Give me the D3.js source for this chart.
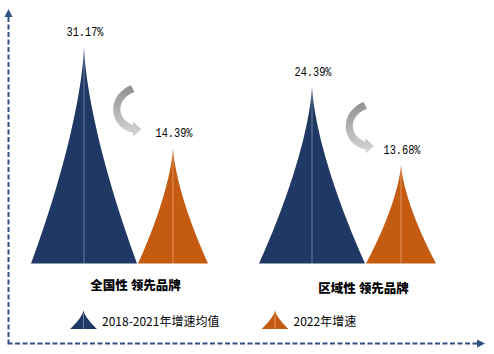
<!DOCTYPE html>
<html>
<head>
<meta charset="utf-8">
<script src="https://cdn.jsdelivr.net/npm/d3@7"></script>
<style>
  html, body { margin: 0; padding: 0; background: #ffffff; }
  svg { display: block; }
</style>
</head>
<body>
<svg id="chart" width="494" height="354"></svg>
<script>
// ---------------- data ----------------
const categories = ["全国性 领先品牌", "区域性 领先品牌"];
const seriesNames = ["2018-2021年增速均值", "2022年增速"];
const avg2018to2021 = [31.17, 24.39];
const growth2022 = [14.39, 13.68];
const valueLabels = [["31.17%", "14.39%"], ["24.39%", "13.68%"]];

// ---------------- layout / style ----------------
const colors = ["#203864", "#C55A11"];
const centerLine = ["rgba(170,185,210,0.55)", "rgba(245,190,150,0.6)"];
const shapeWidths = [106, 70];
const curvePow = 1.5;
const baseY = 263.5;
const svg = d3.select("#chart");

// group position scale
const gx = d3.scalePoint().domain(categories).range([128.5, 356.5]);
const sx = d3.scalePoint().domain(seriesNames).range([-44.5, 44.5]);

// one value scale per panel (the pictogram heights are not drawn to a common zero)
const yScales = [
  d3.scaleLinear().domain([-5, 35]).range([baseY, baseY - 240]),
  d3.scaleLinear().domain([0, 35]).range([baseY, baseY - 254.8])
];

// pictogram profile (concave-sided spike)
const spike = (cx, w, yBase, yTop, n = 48) => {
  const h = yBase - yTop;
  const pts = [];
  for (let i = 0; i <= n; i++) {
    const f = i / n;
    pts.push([cx + (w / 2) * Math.pow(1 - f, curvePow), yBase - f * h]);
  }
  for (let i = n - 1; i >= 0; i--) {
    const f = i / n;
    pts.push([cx - (w / 2) * Math.pow(1 - f, curvePow), yBase - f * h]);
  }
  return d3.line()(pts) + "Z";
};

// gradient for curved arrows
const defs = svg.append("defs");
const grad = defs.append("linearGradient").attr("id", "arrowGrad")
  .attr("x1", 0).attr("y1", 0).attr("x2", 0).attr("y2", 1);
grad.append("stop").attr("offset", "0%").attr("stop-color", "#8f8f8f");
grad.append("stop").attr("offset", "100%").attr("stop-color", "#d6d6d6");

// ---------------- axes (arrows) ----------------
const axisColor = "#2F5283";
svg.append("line").attr("x1", 8.5).attr("y1", 17).attr("x2", 8.5).attr("y2", 343)
  .attr("stroke", axisColor).attr("stroke-width", 2).attr("stroke-dasharray", "5,2.5");
svg.append("path").attr("d", "M8.5,9 L12.5,17 L4.5,17 Z").attr("fill", axisColor);
svg.append("line").attr("x1", 7.5).attr("y1", 343.5).attr("x2", 477).attr("y2", 343.5)
  .attr("stroke", axisColor).attr("stroke-width", 2).attr("stroke-dasharray", "5,2.5");
svg.append("path").attr("d", "M485,343.5 L477,339.5 L477,347.5 Z").attr("fill", axisColor);

// ---------------- groups ----------------
categories.forEach((cat, gi) => {
  const y = yScales[gi];
  const vals = [avg2018to2021[gi], growth2022[gi]];
  const g = svg.append("g");
  vals.forEach((v, si) => {
    const cx = gx(cat) + sx(seriesNames[si]);
    const top = y(v);
    g.append("path").attr("d", spike(cx, shapeWidths[si], baseY, top)).attr("fill", colors[si]);
    g.append("line").attr("x1", cx).attr("x2", cx).attr("y1", baseY).attr("y2", top + 6)
      .attr("stroke", centerLine[si]).attr("stroke-width", 1);
    g.append("text").attr("x", cx + 1).attr("y", top - 10)
      .attr("text-anchor", "middle")
      .attr("font-family", "'Liberation Mono', monospace")
      .attr("font-size", 12.5)
      .attr("textLength", 37).attr("lengthAdjust", "spacingAndGlyphs")
      .attr("fill", "#000")
      .text(valueLabels[gi][si]);
  });
  // category label
  g.append("text").attr("x", gx(cat) + 7).attr("y", 290 + gi * 2.5)
    .attr("text-anchor", "middle")
    .attr("font-family", "'Noto Sans CJK SC', sans-serif")
    .attr("font-weight", 900).attr("font-size", 12.5).attr("fill", "#000")
    .text(cat);
  // curved arrow, positioned just left/above the 2022 label
  const ty = y(vals[1]) - 10 - 132;
  const tx = gx(cat) - 128.5 + gi * 4.5;
  g.append("path")
    .attr("transform", `translate(${tx},${ty})`)
    .attr("d", "M131,80 L134.5,87 C118,92 114,112 133,120 L133,116.5 L141.5,124 L133,131.5 L133,127.5 C108,122 106,90 131,80 Z")
    .attr("fill", "url(#arrowGrad)");
});

// ---------------- legend ----------------
const legendX = [70, 261.5];
const legendIconW = 27;
seriesNames.forEach((name, si) => {
  const lg = svg.append("g");
  const x0 = legendX[si], bottom = 329, top = 310;
  const cx = x0 + legendIconW / 2;
  lg.append("path").attr("d", spike(cx, legendIconW, bottom, top, 24)).attr("fill", colors[si]);
  lg.append("line").attr("x1", cx).attr("x2", cx).attr("y1", bottom).attr("y2", top + 3)
    .attr("stroke", centerLine[si]).attr("stroke-width", 1);
  lg.append("text").attr("x", x0 + legendIconW + 5).attr("y", 326)
    .attr("font-family", "'Noto Sans CJK SC', sans-serif")
    .attr("font-size", 12).attr("fill", "#000")
    .text(name);
});
</script>
</body>
</html>
